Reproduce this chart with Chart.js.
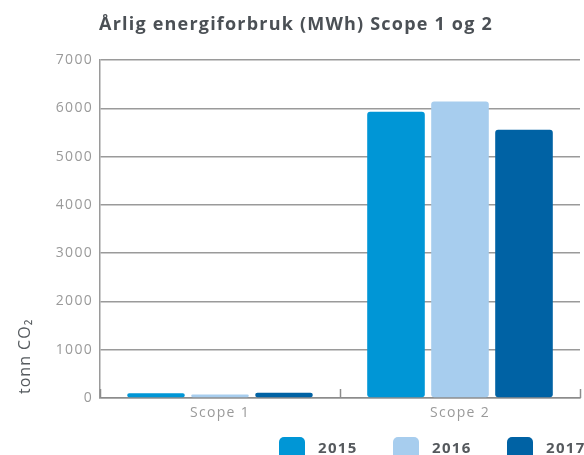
<!DOCTYPE html>
<html>
<head>
<meta charset="utf-8">
<script src="https://cdn.jsdelivr.net/npm/chart.js@4"></script>
<style>
html,body{margin:0;padding:0;background:#fff;}
#wrap{width:584px;height:455px;position:relative;}
</style>
</head>
<body>
<div id="wrap"><canvas id="c" width="584" height="455"></canvas></div>
<script>
const categories = ['Scope 1', 'Scope 2'];
const years = ['2015', '2016', '2017'];
const values2015 = [100, 5930];
const values2016 = [75, 6140];
const values2017 = [110, 5555];
const yTicks = [0, 1000, 2000, 3000, 4000, 5000, 6000, 7000];
const titleText = 'Årlig energiforbruk (MWh) Scope 1 og 2';
const yTitle = 'tonn CO₂';
const colors = ['#0096d6', '#a7cdee', '#0062a4'];

const FONT = '"Open Sans", Lato, sans-serif';

const extras = {
  id: 'extras',
  beforeDraw(chart) {
    chart.ctx.letterSpacing = '1.3px';
  },
  afterDraw(chart) {
    const ctx = chart.ctx;
    const ca = chart.chartArea;
    ctx.save();
    ctx.strokeStyle = '#8c8c8c';
    ctx.lineWidth = 1.5;
    const w = (ca.right - ca.left) / categories.length;
    for (let i = 0; i <= categories.length; i++) {
      const px = Math.round(ca.left + i * w) + 0.5;
      ctx.beginPath();
      ctx.moveTo(px, ca.bottom);
      ctx.lineTo(px, ca.bottom - 9);
      ctx.stroke();
    }
    ctx.restore();

    // title
    ctx.save();
    ctx.fillStyle = '#4b5055';
    ctx.font = 'bold 18px ' + FONT;
    ctx.letterSpacing = '1.2px';
    ctx.textAlign = 'left';
    ctx.textBaseline = 'alphabetic';
    const tw = ctx.measureText(titleText).width;
    ctx.fillText(titleText, 296 - tw / 2, 30);
    ctx.restore();

    // y title
    ctx.save();
    ctx.fillStyle = '#555a5e';
    ctx.font = '16px ' + FONT;
    ctx.letterSpacing = '1px';
    ctx.translate(30, 394);
    ctx.rotate(-Math.PI / 2);
    ctx.textAlign = 'left';
    ctx.textBaseline = 'alphabetic';
    ctx.fillText(yTitle, 0, 0);
    ctx.restore();

    // legend
    ctx.save();
    const lx = [279, 393, 507];
    ctx.font = 'bold 15px ' + FONT;
    ctx.letterSpacing = '1.3px';
    ctx.textBaseline = 'alphabetic';
    ctx.textAlign = 'left';
    years.forEach((yr, i) => {
      ctx.fillStyle = colors[i];
      ctx.beginPath();
      ctx.roundRect(lx[i], 437, 26, 24, 5);
      ctx.fill();
      ctx.fillStyle = '#55595d';
      ctx.fillText(yr, lx[i] + 39, 453);
    });
    ctx.restore();
  }
};

new Chart(document.getElementById('c'), {
  type: 'bar',
  data: {
    labels: categories,
    datasets: [
      { label: years[0], data: values2015, backgroundColor: colors[0] },
      { label: years[1], data: values2016, backgroundColor: colors[1] },
      { label: years[2], data: values2017, backgroundColor: colors[2] }
    ]
  },
  options: {
    responsive: false,
    animation: false,
    devicePixelRatio: 1,
    layout: { padding: { left: 0, right: 4, top: 60, bottom: 27 } },
    datasets: { bar: { categoryPercentage: 0.8, barPercentage: 0.9, borderRadius: 3, borderSkipped: false } },
    plugins: {
      legend: { display: false },
      tooltip: { enabled: false },
      title: { display: false }
    },
    scales: {
      x: {
        grid: { display: false, drawTicks: false },
        border: { display: true, color: '#8c8c8c', width: 1.5 },
        ticks: { color: '#9a9a9a', font: { family: FONT, size: 14 }, padding: 7 },
        afterFit(s) { s.height = 30; }
      },
      y: {
        min: 0, max: 7000,
        afterBuildTicks(s) { s.ticks = yTicks.map(v => ({ value: v })); },
        grid: { color: '#9a9a9a', lineWidth: 1.5, drawTicks: false },
        border: { display: true, color: '#9a9a9a', width: 1.5 },
        ticks: { color: '#9a9a9a', font: { family: FONT, size: 14 }, padding: 7, callback: v => String(v) },
        afterFit(s) { s.width = 100; }
      }
    }
  },
  plugins: [extras]
});
</script>
</body>
</html>
